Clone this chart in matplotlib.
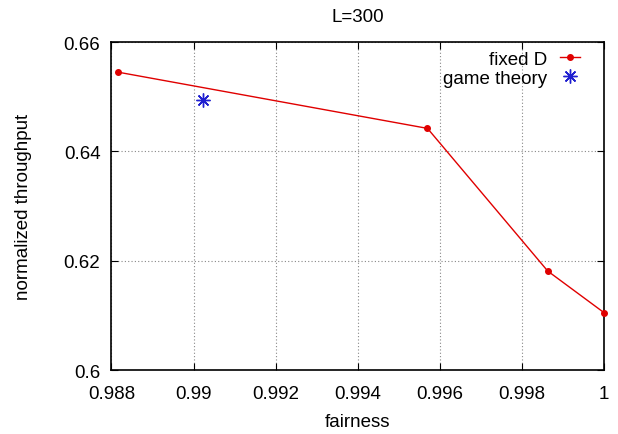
import matplotlib
matplotlib.use("Agg")
import matplotlib.pyplot as plt

plt.rcParams['font.family'] = ['Liberation Sans', 'DejaVu Sans']

# data
fixed_x = [0.98815, 0.9957, 0.99863, 1.0]
fixed_y = [0.6545, 0.6442, 0.6181, 0.6105]
game_x = [0.99024]
game_y = [0.6494]

xticks = [0.988, 0.99, 0.992, 0.994, 0.996, 0.998, 1]
xticklabels = ["0.988", "0.99", "0.992", "0.994", "0.996", "0.998", "1"]
yticks = [0.6, 0.62, 0.64, 0.66]
yticklabels = ["0.6", "0.62", "0.64", "0.66"]

FS = 13.5

fig = plt.figure(figsize=(6.18, 4.35), dpi=100)
ax = fig.add_axes([0.1804, 0.1471, 0.7969, 0.754])

ax.plot(fixed_x, fixed_y, color="#e00000", lw=1, marker="o", ms=4,
        label="fixed D", clip_on=False, zorder=3)
# gnuplot point type 3: plus and cross together
ax.plot(game_x, game_y, ls="none", color="#2020d0", marker=(8, 2, 0), ms=10,
        mew=1, label="game theory", zorder=3)

ax.set_xlim(0.988, 1.0)
ax.set_ylim(0.6, 0.66)
ax.set_xticks(xticks)
ax.set_xticklabels(xticklabels)
ax.set_yticks(yticks)
ax.set_yticklabels(yticklabels)
ax.tick_params(direction="in", top=True, right=True, length=5, labelsize=FS)
ax.tick_params(axis="x", pad=10.5)
ax.tick_params(axis="y", pad=8)
ax.grid(True, color="#888888", ls=(0, (1, 2)), lw=0.8)
for s in ax.spines.values():
    s.set_linewidth(1.2)

ax.set_title("L=300", fontsize=FS, pad=15)
ax.set_xlabel("fairness", fontsize=FS, labelpad=8)
ax.set_ylabel("normalized throughput", fontsize=FS, labelpad=23)

leg = ax.legend(loc="upper right", bbox_to_anchor=(0.951, 0.973),
                markerfirst=False, frameon=False, fontsize=FS,
                handlelength=1.05, handletextpad=0.7, borderaxespad=0,
                borderpad=0, labelspacing=0.1)

fig.savefig("out.png", dpi=100)
